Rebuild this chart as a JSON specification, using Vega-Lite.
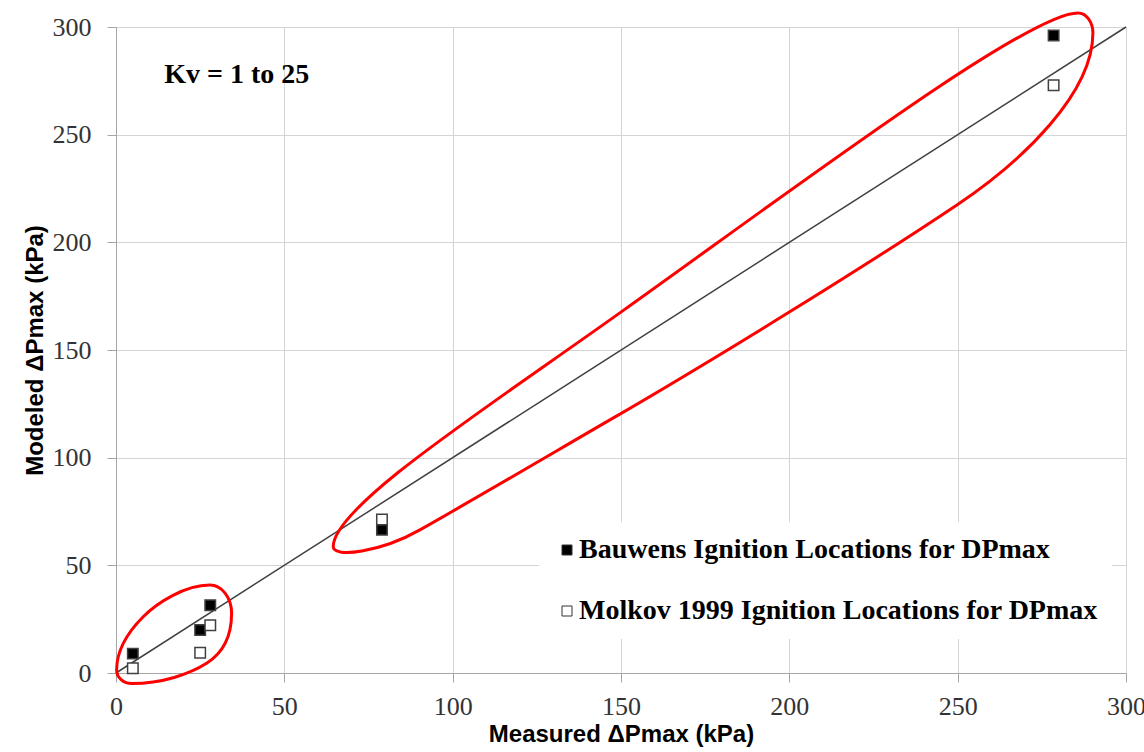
{
  "$schema": "https://vega.github.io/schema/vega-lite/v6.json",
  "width": 1010,
  "height": 646,
  "autosize": "none",
  "padding": {"left": 116, "top": 27, "right": 18, "bottom": 79},
  "background": "white",
  "datasets": {
    "points": [
      {"series": "Bauwens Ignition Locations for DPmax", "measured": 5, "modeled": 9},
      {"series": "Bauwens Ignition Locations for DPmax", "measured": 25, "modeled": 20},
      {"series": "Bauwens Ignition Locations for DPmax", "measured": 28, "modeled": 31.5},
      {"series": "Bauwens Ignition Locations for DPmax", "measured": 79, "modeled": 66.5},
      {"series": "Bauwens Ignition Locations for DPmax", "measured": 278.5, "modeled": 296},
      {"series": "Molkov 1999 Ignition Locations for DPmax", "measured": 5, "modeled": 2.2},
      {"series": "Molkov 1999 Ignition Locations for DPmax", "measured": 25, "modeled": 9.4},
      {"series": "Molkov 1999 Ignition Locations for DPmax", "measured": 28, "modeled": 22.2},
      {"series": "Molkov 1999 Ignition Locations for DPmax", "measured": 79, "modeled": 71.3},
      {"series": "Molkov 1999 Ignition Locations for DPmax", "measured": 278.5, "modeled": 273}
    ],
    "diag": [
      {"measured": 0, "modeled": 0},
      {"measured": 300, "modeled": 300}
    ],
    "ellipses": [
      {"group": "low", "measured": 17.2, "modeled": 18.1},
      {"group": "high", "measured": 177.3, "modeled": 177.9}
    ],
    "notes": [
      {"text": "Kv = 1 to 25", "measured": 14.3, "modeled": 277.7}
    ]
  },
  "encoding": {
    "x": {
      "field": "measured",
      "type": "quantitative",
      "scale": {"domain": [0, 300], "nice": false, "zero": true},
      "axis": {
        "title": "Measured ΔPmax (kPa)",
        "values": [0, 50, 100, 150, 200, 250, 300],
        "tickSize": 9,
        "labelPadding": 11,
        "titlePadding": 3,
        "labelFlush": false,
        "labelOverlap": false
      }
    },
    "y": {
      "field": "modeled",
      "type": "quantitative",
      "scale": {"domain": [0, 300], "nice": false, "zero": true},
      "axis": {
        "title": "Modeled ΔPmax (kPa)",
        "values": [0, 50, 100, 150, 200, 250, 300],
        "tickSize": 9,
        "labelPadding": 16,
        "titlePadding": 5,
        "labelFlush": false,
        "labelOverlap": false
      }
    }
  },
  "layer": [
    {
      "data": {"name": "diag"},
      "mark": {"type": "line", "color": "#404040", "strokeWidth": 1.5},
      "encoding": {}
    },
    {
      "data": {"name": "ellipses"},
      "transform": [{"filter": "datum.group === 'low'"}],
      "mark": {
        "type": "point",
        "shape": "M36,-49 C11,-49 -16.6,-31.4 -30.7,-17.3 C-44.8,-3.2 -57.3,16 -57.3,36 C-57.3,43.5 -50.5,49.5 -42,49.5 C-12,49.5 15.8,40 32.7,29.3 C47.9,19.7 57.7,4.3 57.7,-20.7 C57.7,-36.3 48,-49 36,-49 Z",
        "size": 4,
        "filled": false,
        "stroke": "#ff0000",
        "strokeWidth": 3,
        "opacity": 1
      },
      "encoding": {}
    },
    {
      "data": {"name": "ellipses"},
      "transform": [{"filter": "datum.group === 'high'"}],
      "mark": {
        "type": "point",
        "shape": "M365,-277 C315,-277 87.8,-106.1 -91.3,21.7 C-229.7,120.5 -379.7,216.7 -379.7,256.7 C-379.7,268.7 -332.1,262.1 -293,240 C-238.2,209.1 -157.5,161.6 -103,130 C-3.5,72.3 148.4,-20.9 244,-85 C310.5,-129.6 380,-197 380,-257 C380,-268 373.3,-277 365,-277 Z",
        "size": 4,
        "filled": false,
        "stroke": "#ff0000",
        "strokeWidth": 3,
        "opacity": 1
      },
      "encoding": {}
    },
    {
      "data": {"name": "points"},
      "mark": {"type": "square", "size": 110, "stroke": "#404040", "strokeWidth": 1.5, "opacity": 1},
      "encoding": {
        "fill": {
          "field": "series",
          "type": "nominal",
          "scale": {
            "domain": ["Bauwens Ignition Locations for DPmax", "Molkov 1999 Ignition Locations for DPmax"],
            "range": ["#000000", "#ffffff"]
          },
          "legend": {
            "title": null,
            "orient": "none",
            "legendX": 423,
            "legendY": 495,
            "symbolType": "square",
            "symbolSize": 100,
            "symbolStrokeColor": "#333333",
            "symbolStrokeWidth": 1,
            "labelFont": "Liberation Serif",
            "labelFontWeight": "bold",
            "labelFontSize": 28,
            "labelColor": "#000000",
            "labelLimit": 800,
            "labelOffset": -2,
            "rowPadding": 33,
            "fillColor": "white",
            "padding": 14
          }
        }
      }
    },
    {
      "data": {"name": "notes"},
      "mark": {
        "type": "text",
        "align": "left",
        "baseline": "middle",
        "font": "Liberation Serif",
        "fontWeight": "bold",
        "fontSize": 28,
        "color": "#000000"
      },
      "encoding": {"text": {"field": "text"}}
    }
  ],
  "config": {
    "view": {"stroke": "#bfbfbf", "strokeWidth": 1},
    "axis": {
      "grid": true,
      "gridColor": "#d4d4d4",
      "gridWidth": 1,
      "domainColor": "#a6a6a6",
      "tickColor": "#a6a6a6",
      "labelFont": "Liberation Serif",
      "labelFontSize": 26,
      "labelColor": "#333333",
      "titleFont": "Liberation Sans",
      "titleFontWeight": "bold",
      "titleFontSize": 24,
      "titleColor": "#000000"
    }
  }
}
